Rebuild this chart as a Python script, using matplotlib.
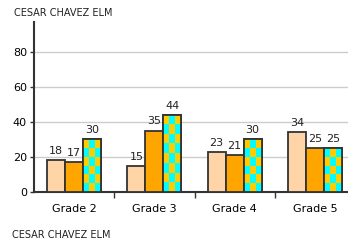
import numpy as np
import matplotlib
matplotlib.use('Agg')
import matplotlib.pyplot as plt

grades = ['Grade 2', 'Grade 3', 'Grade 4', 'Grade 5']
serie1 = [18, 15, 23, 34]
serie2 = [17, 35, 21, 25]
serie3 = [30, 44, 30, 25]
school = 'CESAR CHAVEZ ELM'

fig = plt.figure(figsize=(3.48, 2.42), dpi=100)
ax = fig.add_axes([34/348, 50/242, 321/348, 170/242])

x = np.arange(len(grades))
w = 0.224
b1 = ax.bar(x - w, serie1, w, color='#FFD5A8', edgecolor='#333333', linewidth=1.3, zorder=3)
b2 = ax.bar(x, serie2, w, color='#FFA500', edgecolor='#333333', linewidth=1.3, zorder=3)
b3 = ax.bar(x + w, serie3, w, color='#00FFFF', edgecolor='#333333', linewidth=1.3, zorder=3)

ax.set_xlim(-0.5, 3.5)
ax.set_ylim(0, 97)

# damier cyan/or pour la 3e serie
cmap = matplotlib.colors.ListedColormap(['#00FFFF', '#FFCC00'])
for r in b3:
    x0, y0 = r.get_x(), r.get_y()
    bw, bh = r.get_width(), r.get_height()
    nx = 3
    ny = max(1, int(round(bh / 5.2)))
    board = np.add.outer(np.arange(ny), np.arange(nx)) % 2
    im = ax.imshow(board, extent=(x0, x0 + bw, y0, y0 + bh), origin='lower',
                   cmap=cmap, interpolation='nearest', aspect='auto', zorder=3.5)
    im.set_clip_path(r)
    ax.add_patch(plt.Rectangle((x0, y0), bw, bh, fill=False, edgecolor='#333333',
                               linewidth=1.3, zorder=4))

for bars, vals in ((b1, serie1), (b2, serie2), (b3, serie3)):
    for r, v in zip(bars, vals):
        ax.annotate(str(v), (r.get_x() + r.get_width() / 2, v), xytext=(0, 3),
                    textcoords='offset points', ha='center', va='bottom',
                    fontsize=8, color='#222222', zorder=5)

ax.set_yticks([0, 20, 40, 60, 80])
ax.tick_params(axis='y', labelsize=8, length=3, width=1, color='#333333', pad=2)
ax.grid(axis='y', color='#cccccc', linewidth=1, zorder=0)
ax.set_xticks(x)
ax.set_xticklabels(grades, fontsize=8)
ax.tick_params(axis='x', length=0, pad=9)
ax.set_xticks([0.5, 1.5, 2.5], minor=True)
ax.tick_params(axis='x', which='minor', length=4, width=1, color='#333333')

for s in ('top', 'right'):
    ax.spines[s].set_visible(False)
ax.spines['left'].set_color('#333333')
ax.spines['left'].set_linewidth(1.5)
ax.spines['bottom'].set_color('#333333')
ax.spines['bottom'].set_linewidth(1.5)

fig.text(14/348, 1 - 13/242, school, fontsize=7, va='center', ha='left', color='#222222')
fig.text(12/348, 1 - 235/242, school, fontsize=7, va='center', ha='left', color='#222222')

fig.savefig('out.png', dpi=100)
